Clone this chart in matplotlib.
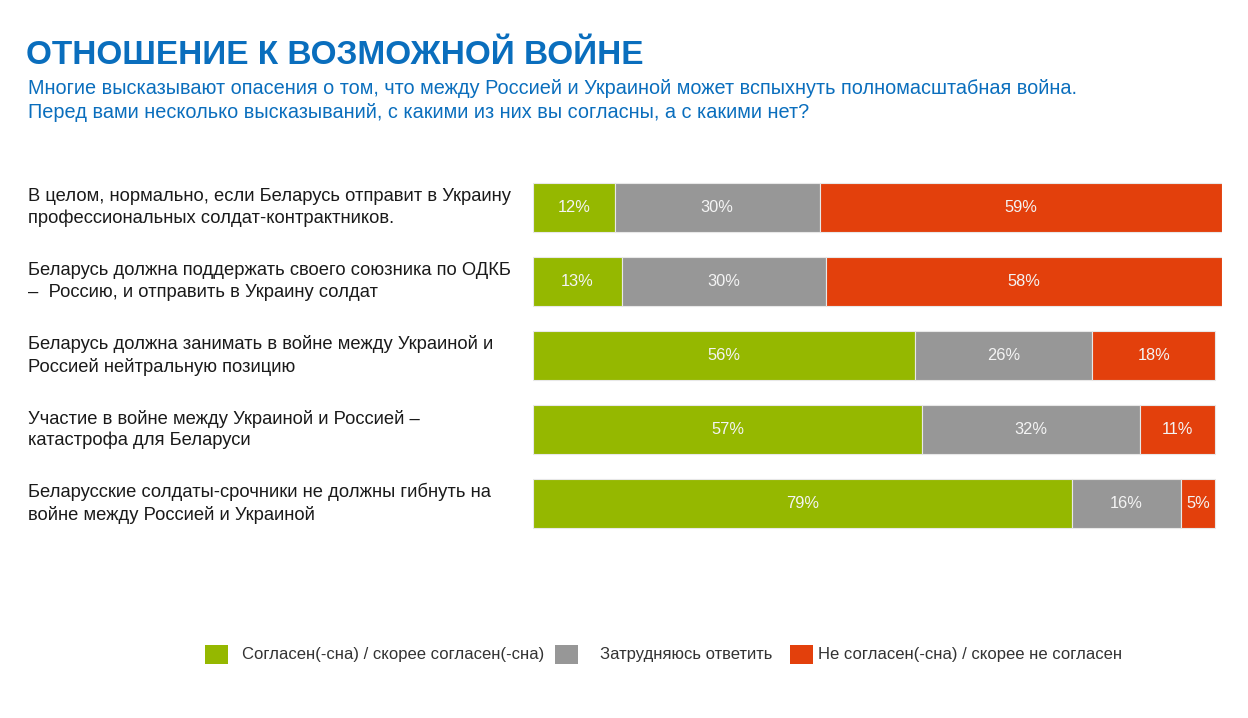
import matplotlib.pyplot as plt
import matplotlib.transforms as mtransforms
from matplotlib.patches import Rectangle

plt.rcParams['font.family'] = ['Liberation Sans', 'DejaVu Sans']

W, H = 1248, 718

statements = [
    'В целом, нормально, если Беларусь отправит в Украину\nпрофессиональных солдат-контрактников.',
    'Беларусь должна поддержать своего союзника по ОДКБ\n–  Россию, и отправить в Украину солдат',
    'Беларусь должна занимать в войне между Украиной и\nРоссией нейтральную позицию',
    'Участие в войне между Украиной и Россией –\nкатастрофа для Беларуси',
    'Беларусские солдаты-срочники не должны гибнуть на\nвойне между Россией и Украиной',
]
agree = [12, 13, 56, 57, 79]
unsure = [30, 30, 26, 32, 16]
disagree = [59, 58, 18, 11, 5]

legend_labels = ['Согласен(-сна) / скорее согласен(-сна)', 'Затрудняюсь ответить',
                 'Не согласен(-сна) / скорее не согласен']
colors = ['#95B800', '#979797', '#E3400C']
blue = '#0A6EBD'

fig = plt.figure(figsize=(W / 100, H / 100), dpi=100)
fig.patch.set_facecolor('white')

# axes placed in pixel terms
left, right = 533, 1222
top, bottom = 170.5, 540.5
ax = fig.add_axes([left / W, 1 - bottom / H, (right - left) / W, (bottom - top) / H])

y = list(range(len(statements)))
starts = [0] * len(y)
for vals, col in zip([agree, unsure, disagree], colors):
    ax.barh(y, vals, left=starts, height=0.66, color=col, edgecolor='#E8E8E8', linewidth=0.8)
    for i, v in enumerate(vals):
        ax.text(starts[i] + v / 2, i, f'{v}%', ha='center', va='center', color='#F4F4F4', fontsize=11.8)
    starts = [s + v for s, v in zip(starts, vals)]

ax.set_xlim(0, 101)
ax.set_ylim(len(y) - 0.5, -0.5)
ax.axis('off')

# statement labels on the left
trans = mtransforms.blended_transform_factory(fig.transFigure, ax.transData)
for i, s in enumerate(statements):
    ax.text(28 / W, i, s, transform=trans, ha='left', va='center', fontsize=13.2,
            color='#1A1A1A', linespacing=1.32)

# title and subtitle
fig.text(26 / W, 1 - 56 / H, 'ОТНОШЕНИЕ К ВОЗМОЖНОЙ ВОЙНЕ', fontsize=24, fontweight='bold',
         color=blue, va='center', ha='left')
fig.text(28 / W, 1 - 88 / H, 'Многие высказывают опасения о том, что между Россией и Украиной может вспыхнуть полномасштабная война.',
         fontsize=14.3, color=blue, va='center', ha='left')
fig.text(28 / W, 1 - 113 / H, 'Перед вами несколько высказываний, с какими из них вы согласны, а с какими нет?',
         fontsize=14.3, color=blue, va='center', ha='left')

# legend
sq_x = [205, 555, 790]
txt_x = [242, 600, 818]
for sx, tx, lab, col in zip(sq_x, txt_x, legend_labels, colors):
    fig.add_artist(Rectangle((sx / W, 1 - 664 / H), 23 / W, 19 / H, transform=fig.transFigure,
                             facecolor=col, edgecolor='none'))
    fig.text(tx / W, 1 - 654 / H, lab, fontsize=12, color='#333333', va='center', ha='left')

fig.savefig('out.png', dpi=100, facecolor='white')
